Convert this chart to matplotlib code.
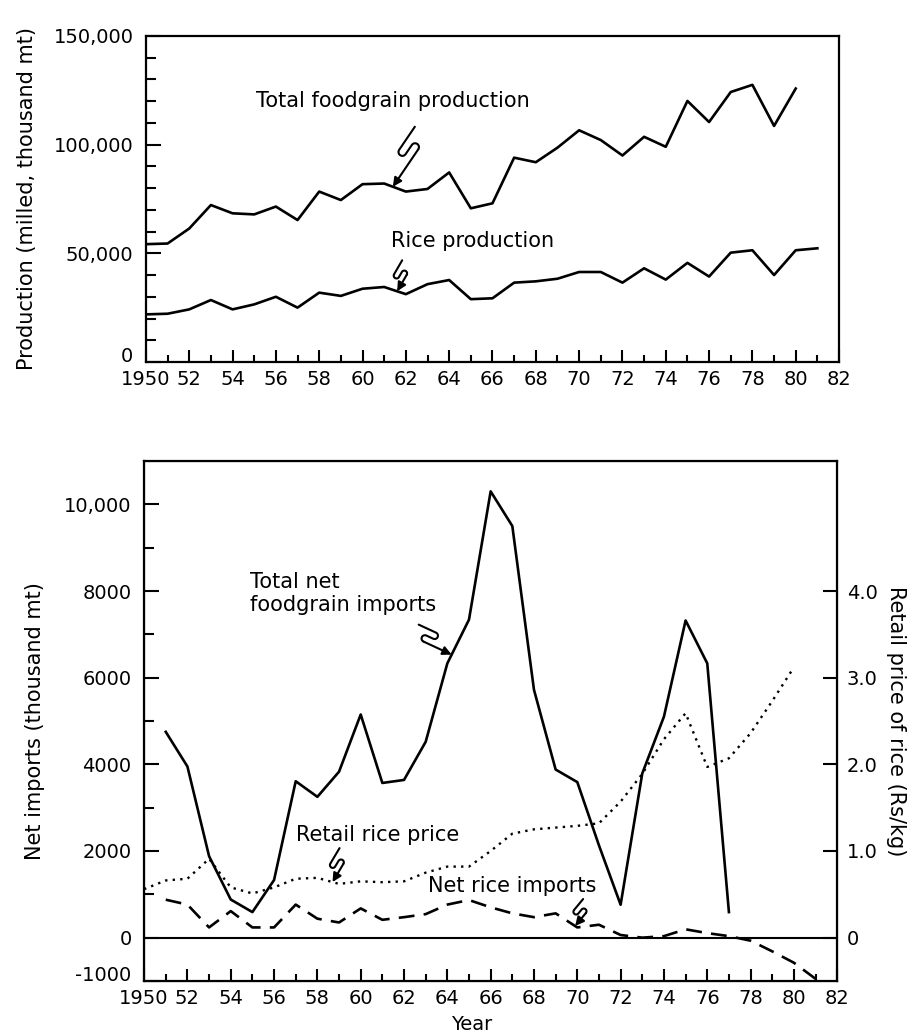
import numpy as np
import matplotlib
matplotlib.use("Agg")
import matplotlib.pyplot as plt
from matplotlib.lines import Line2D
from matplotlib.patches import FancyArrowPatch
from matplotlib.transforms import IdentityTransform

plt.rcParams['font.family'] = 'DejaVu Sans'

# top panel: production, thousand mt
prod_years = np.arange(1950, 1981)
total_prod = [54200, 54500, 61400, 72200, 68400, 67900, 71500, 65300, 78400, 74500,
              81800, 82100, 78400, 79600, 87200, 70700, 73000, 94000, 91900, 98600,
              106600, 102100, 95000, 103600, 99000, 120100, 110400, 124200, 127500,
              108600, 125800]
rice_years = np.arange(1950, 1982)
rice_prod = [21900, 22200, 24200, 28500, 24200, 26500, 30000, 25000, 31900, 30400,
             33700, 34500, 31200, 35800, 37700, 28900, 29300, 36500, 37100, 38300,
             41400, 41400, 36500, 43100, 37900, 45600, 39300, 50300, 51400, 40000,
             51400, 52300]

# bottom panel: imports (thousand mt) and retail price (Rs/kg)
imp_years = np.arange(1951, 1978)
total_imports = [4750, 3950, 1880, 880, 590, 1330, 3610, 3250, 3830, 5150, 3570, 3640,
                 4520, 6330, 7340, 10300, 9500, 5720, 3880, 3590, 2130, 760, 3790,
                 5100, 7320, 6330, 590]
price_years = np.arange(1950, 1981)
rice_price = [0.56, 0.66, 0.68, 0.91, 0.58, 0.51, 0.58, 0.68, 0.69, 0.62, 0.65, 0.64,
              0.65, 0.75, 0.82, 0.82, 1.00, 1.20, 1.25, 1.27, 1.29, 1.32, 1.57, 1.89,
              2.29, 2.59, 1.97, 2.07, 2.36, 2.73, 3.12]
rice_imp_years = np.arange(1951, 1982)
rice_imports = [876, 763, 236, 613, 236, 236, 763, 438, 350, 675, 412, 473, 543, 763,
                868, 700, 561, 473, 561, 236, 298, 61, 0, 35, 193, 105, 35, -70, -316,
                -579, -950]

x_ticks = np.arange(1950, 1983, 2)
x_labels = ['1950'] + [str(y)[2:] for y in x_ticks[1:]]

TICK_FS = 14
LABEL_FS = 15
NOTE_FS = 15

fig = plt.figure(figsize=(9.12, 10.36), dpi=100)


def style_x(ax):
    ax.set_xlim(1950, 1982)
    ax.set_xticks(x_ticks)
    ax.set_xticklabels(x_labels)
    ax.set_xticks(np.arange(1951, 1982, 2), minor=True)
    ax.tick_params(axis='x', which='major', direction='in', length=9, width=1.5,
                   labelsize=TICK_FS, pad=6)
    ax.tick_params(axis='x', which='minor', direction='in', length=5, width=1.5)
    for s in ax.spines.values():
        s.set_linewidth(1.6)


def squiggle(ax, x, y, dx, dy, a=8.0, s1=0.45, s2=0.27, side=1):
    # little S-shaped pointer ending in an arrow on (x, y)
    tx, ty = ax.transData.transform((x, y))
    tip = complex(tx, ty)
    start = tip + complex(dx, dy)
    L = abs(tip - start)
    r = a / 2
    pts = [complex(0, -a), complex(s1 * L, -a)]
    t = np.linspace(-np.pi / 2, np.pi / 2, 14)
    pts += list(complex(s1 * L, -r) + r * np.exp(1j * t))
    pts += [complex(s2 * L, 0)]
    t = np.linspace(3 * np.pi / 2, np.pi / 2, 14)
    pts += list(complex(s2 * L, r) + r * np.exp(1j * t))
    pts = np.array(pts)
    zt = complex(L, a)
    if side < 0:
        pts = pts.conj()
        zt = zt.conjugate()
    z0 = pts[0]
    w = start + (pts - z0) * (tip - start) / (zt - z0)
    fig.add_artist(Line2D(w.real, w.imag, transform=IdentityTransform(),
                          color='k', lw=1.5, solid_capstyle='round'))
    fig.add_artist(FancyArrowPatch((w[-1].real, w[-1].imag), (tip.real, tip.imag),
                                   transform=IdentityTransform(), arrowstyle='-|>',
                                   mutation_scale=13, lw=1.5, color='k',
                                   shrinkA=0, shrinkB=0))


# ---- top panel
ax1 = fig.add_axes([0.160, 0.6506, 0.760, 0.3147])
ax1.plot(prod_years, total_prod, color='k', lw=1.9)
ax1.plot(rice_years, rice_prod, color='k', lw=1.9)
ax1.set_ylim(0, 150000)
ax1.set_yticks([0, 50000, 100000, 150000])
ax1.set_yticklabels(['0', '50,000', '100,000', '150,000'])
ax1.get_yticklabels()[0].set_va('baseline')
ax1.set_yticks(np.arange(10000, 150000, 10000), minor=True)
ax1.tick_params(axis='y', which='major', direction='in', length=11, width=1.5,
                labelsize=TICK_FS, pad=9)
ax1.tick_params(axis='y', which='minor', direction='in', length=7, width=1.5)
style_x(ax1)
ax1.set_ylabel('Production (milled, thousand mt)', fontsize=LABEL_FS, labelpad=12)
ax1.text(1961.4, 120000, 'Total foodgrain production', fontsize=NOTE_FS,
         ha='center', va='center')
ax1.text(1965.1, 55500, 'Rice production', fontsize=NOTE_FS, ha='center', va='center')

# ---- bottom panel
ax2 = fig.add_axes([0.158, 0.0531, 0.760, 0.5019])
ax2.plot(imp_years, total_imports, color='k', lw=1.9)
ax2.plot(rice_imp_years, rice_imports, color='k', lw=1.9, dashes=(6, 3.5))
ax2.axhline(0, color='k', lw=1.5)
ax2.set_ylim(-1000, 11000)
ax2.set_yticks([-1000, 0, 2000, 4000, 6000, 8000, 10000])
ax2.set_yticklabels(['-1000', '0', '2000', '4000', '6000', '8000', '10,000'])
ax2.get_yticklabels()[0].set_va('baseline')
ax2.set_yticks(np.arange(1000, 10000, 2000), minor=True)
ax2.tick_params(axis='y', which='major', direction='in', length=11, width=1.5,
                labelsize=TICK_FS, pad=9)
ax2.tick_params(axis='y', which='minor', direction='in', length=7, width=1.5)
style_x(ax2)
ax2.set_ylabel('Net imports (thousand mt)', fontsize=LABEL_FS, labelpad=14)
ax2.set_xlabel('Year', fontsize=14)
ax2.xaxis.set_label_coords(0.472, -0.066)

ax3 = ax2.twinx()
ax3.plot(price_years, rice_price, color='k', lw=1.7, dashes=(1, 2.2))
ax3.set_ylim(-0.5, 5.5)
ax3.set_yticks([0, 1, 2, 3, 4])
ax3.set_yticklabels(['0', '1.0', '2.0', '3.0', '4.0'])
ax3.tick_params(axis='y', direction='in', length=10, width=1.5, labelsize=TICK_FS, pad=7)
ax3.set_ylabel('Retail price of rice (Rs/kg)', fontsize=LABEL_FS, rotation=270,
               labelpad=20)

ax2.text(1954.9, 7950, 'Total net\nfoodgrain imports', fontsize=NOTE_FS, ha='left',
         va='center', linespacing=1.2)
ax2.text(1957.0, 2380, 'Retail rice price', fontsize=NOTE_FS, ha='left', va='center')
ax2.text(1963.1, 1195, 'Net rice imports', fontsize=NOTE_FS, ha='left', va='center')

# pointers
squiggle(ax1, 1961.4, np.interp(1961.4, prod_years, total_prod), 22, 60)
squiggle(ax1, 1961.6, np.interp(1961.6, rice_years, rice_prod), 5, 31, a=6, s1=0.55, s2=0.35)
squiggle(ax2, 1964.2, np.interp(1964.2, imp_years, total_imports), -33, 30, a=7, side=-1)
squiggle(ax3, 1958.7, np.interp(1958.7, price_years, rice_price), 7, 34, a=6, s1=0.55, s2=0.35)
squiggle(ax2, 1969.9, np.interp(1969.9, rice_imp_years, rice_imports), 8, 27, a=6, s1=0.55, s2=0.35)

fig.savefig('out.png', dpi=100)
